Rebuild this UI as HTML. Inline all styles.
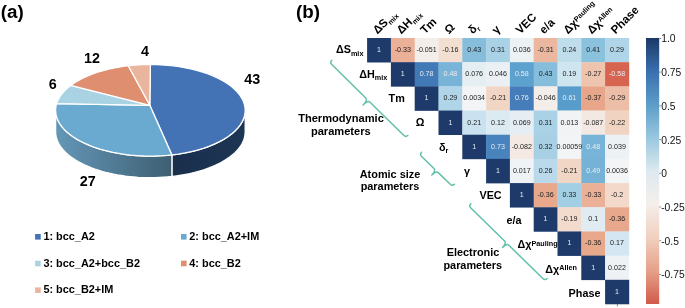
<!DOCTYPE html><html><head><meta charset="utf-8"><style>html,body{margin:0;padding:0;background:#fff;}svg{display:block;filter:blur(0.35px);}text{font-family:"Liberation Sans",sans-serif;}</style></head><body>
<svg width="685" height="308" viewBox="0 0 685 308">
<rect width="685" height="308" fill="#fff"/>
<text x="0.7" y="17.6" font-size="18.8" font-weight="bold" fill="#000">(a)</text>
<text x="296" y="17.6" font-size="18.8" font-weight="bold" fill="#000">(b)</text>
<defs>
<linearGradient id="s2" x1="55" y1="0" x2="172" y2="0" gradientUnits="userSpaceOnUse"><stop offset="0" stop-color="#6497b8"/><stop offset="1" stop-color="#3d5f72"/></linearGradient>
<linearGradient id="s1" x1="172" y1="0" x2="245" y2="0" gradientUnits="userSpaceOnUse"><stop offset="0" stop-color="#192f4c"/><stop offset="1" stop-color="#1d3554"/></linearGradient>
</defs>
<polygon points="245.20,110.30 245.15,111.84 244.99,113.37 244.72,114.90 244.35,116.43 243.87,117.95 243.29,119.46 242.60,120.96 241.81,122.45 240.91,123.92 239.91,125.38 238.82,126.82 237.62,128.25 236.32,129.65 234.93,131.03 233.44,132.39 231.86,133.72 230.19,135.03 228.43,136.31 226.58,137.56 224.64,138.78 222.62,139.97 220.52,141.12 218.34,142.24 216.09,143.32 213.76,144.37 211.36,145.38 208.89,146.35 206.35,147.27 203.75,148.16 201.09,149.00 198.38,149.80 195.61,150.56 192.78,151.27 189.92,151.93 187.00,152.55 184.05,153.12 181.06,153.64 178.03,154.11 174.97,154.53 171.89,154.91 171.89,176.51 174.97,176.13 178.03,175.71 181.06,175.24 184.05,174.72 187.00,174.15 189.92,173.53 192.78,172.87 195.61,172.16 198.38,171.40 201.09,170.60 203.75,169.76 206.35,168.87 208.89,167.95 211.36,166.98 213.76,165.97 216.09,164.92 218.34,163.84 220.52,162.72 222.62,161.57 224.64,160.38 226.58,159.16 228.43,157.91 230.19,156.63 231.86,155.32 233.44,153.99 234.93,152.63 236.32,151.25 237.62,149.85 238.82,148.42 239.91,146.98 240.91,145.52 241.81,144.05 242.60,142.56 243.29,141.06 243.87,139.55 244.35,138.03 244.72,136.50 244.99,134.97 245.15,133.44 245.20,131.90" fill="url(#s1)" stroke="#fff" stroke-width="1.3" stroke-linejoin="round"/>
<polygon points="171.89,154.91 167.71,155.33 163.50,155.66 159.27,155.90 155.01,156.05 150.75,156.10 146.49,156.06 142.23,155.93 137.99,155.71 133.78,155.39 129.60,154.98 125.46,154.49 121.37,153.90 117.34,153.23 113.38,152.46 109.49,151.62 105.69,150.69 101.98,149.67 98.36,148.58 94.85,147.41 91.45,146.17 88.17,144.85 85.02,143.46 82.00,142.01 79.11,140.49 76.38,138.91 73.79,137.28 71.35,135.58 69.08,133.84 66.97,132.05 65.03,130.22 63.26,128.34 61.67,126.43 60.26,124.49 59.03,122.51 57.99,120.52 57.13,118.50 56.46,116.46 55.98,114.42 55.70,112.36 55.60,110.30 55.60,131.90 55.70,133.96 55.98,136.02 56.46,138.06 57.13,140.10 57.99,142.12 59.03,144.11 60.26,146.09 61.67,148.03 63.26,149.94 65.03,151.82 66.97,153.65 69.08,155.44 71.35,157.18 73.79,158.88 76.38,160.51 79.11,162.09 82.00,163.61 85.02,165.06 88.17,166.45 91.45,167.77 94.85,169.01 98.36,170.18 101.98,171.27 105.69,172.29 109.49,173.22 113.38,174.06 117.34,174.83 121.37,175.50 125.46,176.09 129.60,176.58 133.78,176.99 137.99,177.31 142.23,177.53 146.49,177.66 150.75,177.70 155.01,177.65 159.27,177.50 163.50,177.26 167.71,176.93 171.89,176.51" fill="url(#s2)" stroke="#fff" stroke-width="1.3" stroke-linejoin="round"/>
<polygon points="149.80,105.30 150.40,64.50 157.30,64.62 164.16,64.98 170.95,65.59 177.63,66.43 184.16,67.50 190.52,68.80 196.66,70.32 202.56,72.06 208.18,73.99 213.49,76.12 218.48,78.43 223.10,80.90 227.33,83.54 231.16,86.31 234.56,89.21 237.51,92.23 240.00,95.34 242.01,98.53 243.54,101.78 244.58,105.08 245.12,108.40 245.15,111.73 244.69,115.06 243.72,118.36 242.26,121.62 240.31,124.82 237.88,127.94 234.99,130.97 231.66,133.89 227.89,136.68 223.71,139.34 219.14,141.84 214.21,144.17 208.94,146.32 203.36,148.29 197.50,150.05 191.39,151.60 185.06,152.93 178.55,154.03 171.89,154.91" fill="#4373b5" stroke="#fff" stroke-width="1.3" stroke-linejoin="round"/>
<polygon points="149.80,105.30 171.89,154.91 167.37,155.36 162.81,155.71 158.22,155.94 153.61,156.07 148.99,156.09 144.38,156.01 139.78,155.81 135.21,155.51 130.67,155.10 126.18,154.58 121.75,153.96 117.39,153.23 113.10,152.41 108.90,151.48 104.80,150.45 100.81,149.33 96.94,148.12 93.19,146.82 89.58,145.43 86.11,143.96 82.80,142.41 79.64,140.78 76.65,139.08 73.84,137.31 71.21,135.48 68.77,133.59 66.52,131.64 64.47,129.64 62.62,127.60 60.98,125.51 59.56,123.39 58.34,121.24 57.35,119.06 56.58,116.86 56.03,114.65 55.70,112.43 55.60,110.20 55.72,107.97 56.07,105.74 56.64,103.53" fill="#6aaad0" stroke="#fff" stroke-width="1.3" stroke-linejoin="round"/>
<polygon points="149.80,105.30 56.64,103.53 56.80,103.05 56.96,102.57 57.13,102.09 57.32,101.62 57.52,101.14 57.72,100.66 57.94,100.19 58.17,99.72 58.40,99.25 58.65,98.77 58.91,98.31 59.18,97.84 59.46,97.37 59.74,96.91 60.04,96.44 60.35,95.98 60.67,95.52 61.00,95.06 61.34,94.60 61.69,94.15 62.05,93.69 62.42,93.24 62.80,92.79 63.19,92.35 63.59,91.90 64.00,91.46 64.41,91.01 64.84,90.58 65.28,90.14 65.73,89.70 66.18,89.27 66.65,88.84 67.13,88.41 67.61,87.99 68.11,87.56 68.61,87.14 69.12,86.73 69.64,86.31 70.17,85.90 70.71,85.49" fill="#a9d3e2" stroke="#fff" stroke-width="1.3" stroke-linejoin="round"/>
<polygon points="149.80,105.30 70.71,85.49 71.71,84.76 72.73,84.04 73.78,83.33 74.86,82.63 75.96,81.94 77.10,81.26 78.26,80.59 79.44,79.93 80.65,79.28 81.89,78.64 83.15,78.02 84.44,77.40 85.75,76.80 87.08,76.21 88.44,75.64 89.82,75.07 91.22,74.52 92.64,73.98 94.09,73.46 95.55,72.94 97.04,72.45 98.54,71.96 100.06,71.49 101.60,71.03 103.16,70.59 104.74,70.16 106.33,69.75 107.94,69.35 109.56,68.97 111.20,68.60 112.85,68.25 114.52,67.91 116.20,67.58 117.89,67.28 119.59,66.99 121.31,66.71 123.04,66.45 124.77,66.21 126.52,65.98 128.27,65.77" fill="#e08e70" stroke="#fff" stroke-width="1.3" stroke-linejoin="round"/>
<polygon points="149.80,105.30 128.27,65.77 128.81,65.70 129.36,65.64 129.90,65.58 130.45,65.53 130.99,65.47 131.54,65.42 132.09,65.36 132.64,65.31 133.19,65.26 133.73,65.21 134.28,65.17 134.84,65.12 135.39,65.08 135.94,65.04 136.49,65.00 137.04,64.96 137.60,64.92 138.15,64.88 138.70,64.85 139.26,64.82 139.81,64.79 140.37,64.76 140.92,64.73 141.48,64.70 142.03,64.68 142.59,64.66 143.15,64.63 143.70,64.61 144.26,64.60 144.82,64.58 145.38,64.56 145.93,64.55 146.49,64.54 147.05,64.53 147.61,64.52 148.17,64.51 148.72,64.51 149.28,64.50 149.84,64.50 150.40,64.50" fill="#eab59d" stroke="#fff" stroke-width="1.3" stroke-linejoin="round"/>
<text x="244.2" y="83.7" font-size="14.3" font-weight="bold" fill="#000">43</text>
<text x="79.8" y="185.6" font-size="14.3" font-weight="bold" fill="#000">27</text>
<text x="48.7" y="88.6" font-size="14.3" font-weight="bold" fill="#000">6</text>
<text x="84.1" y="63.1" font-size="14.3" font-weight="bold" fill="#000">12</text>
<text x="141.1" y="56.3" font-size="14.3" font-weight="bold" fill="#000">4</text>
<rect x="35.1" y="234.0" width="5.6" height="5.6" fill="#4373b5"/>
<text x="43.4" y="239.9" font-size="10.9" font-weight="bold" fill="#000">1: bcc_A2</text>
<rect x="181.0" y="234.0" width="5.6" height="5.6" fill="#6aaad0"/>
<text x="189.3" y="239.9" font-size="10.9" font-weight="bold" fill="#000">2: bcc_A2+IM</text>
<rect x="35.1" y="260.7" width="5.6" height="5.6" fill="#a9d3e2"/>
<text x="43.4" y="266.6" font-size="10.9" font-weight="bold" fill="#000">3: bcc_A2+bcc_B2</text>
<rect x="181.0" y="260.7" width="5.6" height="5.6" fill="#e08e70"/>
<text x="189.3" y="266.6" font-size="10.9" font-weight="bold" fill="#000">4: bcc_B2</text>
<rect x="35.1" y="287.4" width="5.6" height="5.6" fill="#eab59d"/>
<text x="43.4" y="293.3" font-size="10.9" font-weight="bold" fill="#000">5: bcc_B2+IM</text>
<rect x="367.10" y="38.00" width="24.10" height="24.48" fill="#1d3a6b"/>
<rect x="390.90" y="38.00" width="24.10" height="24.48" fill="#eab198"/>
<rect x="414.70" y="38.00" width="24.10" height="24.48" fill="#f4eeea"/>
<rect x="438.50" y="38.00" width="24.10" height="24.48" fill="#f3dfd2"/>
<rect x="462.30" y="38.00" width="24.10" height="24.48" fill="#85bddb"/>
<rect x="486.10" y="38.00" width="24.10" height="24.48" fill="#aad2e6"/>
<rect x="509.90" y="38.00" width="24.10" height="24.48" fill="#ecf1f4"/>
<rect x="533.70" y="38.00" width="24.10" height="24.48" fill="#ebb79f"/>
<rect x="557.50" y="38.00" width="24.10" height="24.48" fill="#c0ddec"/>
<rect x="581.30" y="38.00" width="24.10" height="24.48" fill="#8ac1dd"/>
<rect x="605.10" y="38.00" width="24.10" height="24.48" fill="#b0d5e8"/>
<rect x="390.90" y="62.18" width="24.10" height="24.48" fill="#1d3a6b"/>
<rect x="414.70" y="62.18" width="24.10" height="24.48" fill="#4279b7"/>
<rect x="438.50" y="62.18" width="24.10" height="24.48" fill="#78b4d7"/>
<rect x="462.30" y="62.18" width="24.10" height="24.48" fill="#e5eef3"/>
<rect x="486.10" y="62.18" width="24.10" height="24.48" fill="#eaf0f4"/>
<rect x="509.90" y="62.18" width="24.10" height="24.48" fill="#5da2ce"/>
<rect x="533.70" y="62.18" width="24.10" height="24.48" fill="#85bddb"/>
<rect x="557.50" y="62.18" width="24.10" height="24.48" fill="#cfe5f0"/>
<rect x="581.30" y="62.18" width="24.10" height="24.48" fill="#eec4af"/>
<rect x="605.10" y="62.18" width="24.10" height="24.48" fill="#d66451"/>
<rect x="414.70" y="86.36" width="24.10" height="24.48" fill="#1d3a6b"/>
<rect x="438.50" y="86.36" width="24.10" height="24.48" fill="#b0d5e8"/>
<rect x="462.30" y="86.36" width="24.10" height="24.48" fill="#f2f4f5"/>
<rect x="486.10" y="86.36" width="24.10" height="24.48" fill="#f1d6c6"/>
<rect x="509.90" y="86.36" width="24.10" height="24.48" fill="#447db9"/>
<rect x="533.70" y="86.36" width="24.10" height="24.48" fill="#f4eeeb"/>
<rect x="557.50" y="86.36" width="24.10" height="24.48" fill="#579ccb"/>
<rect x="581.30" y="86.36" width="24.10" height="24.48" fill="#e7a589"/>
<rect x="605.10" y="86.36" width="24.10" height="24.48" fill="#ecbda7"/>
<rect x="438.50" y="110.54" width="24.10" height="24.48" fill="#1d3a6b"/>
<rect x="462.30" y="110.54" width="24.10" height="24.48" fill="#cae2ef"/>
<rect x="486.10" y="110.54" width="24.10" height="24.48" fill="#dceaf2"/>
<rect x="509.90" y="110.54" width="24.10" height="24.48" fill="#e6eef3"/>
<rect x="533.70" y="110.54" width="24.10" height="24.48" fill="#aad2e6"/>
<rect x="557.50" y="110.54" width="24.10" height="24.48" fill="#f1f3f5"/>
<rect x="581.30" y="110.54" width="24.10" height="24.48" fill="#f4e9e2"/>
<rect x="605.10" y="110.54" width="24.10" height="24.48" fill="#f1d3c2"/>
<rect x="462.30" y="134.72" width="24.10" height="24.48" fill="#1d3a6b"/>
<rect x="486.10" y="134.72" width="24.10" height="24.48" fill="#4883bd"/>
<rect x="509.90" y="134.72" width="24.10" height="24.48" fill="#f4eae3"/>
<rect x="533.70" y="134.72" width="24.10" height="24.48" fill="#a7d0e5"/>
<rect x="557.50" y="134.72" width="24.10" height="24.48" fill="#f3f4f5"/>
<rect x="581.30" y="134.72" width="24.10" height="24.48" fill="#78b4d7"/>
<rect x="605.10" y="134.72" width="24.10" height="24.48" fill="#ecf1f4"/>
<rect x="486.10" y="158.90" width="24.10" height="24.48" fill="#1d3a6b"/>
<rect x="509.90" y="158.90" width="24.10" height="24.48" fill="#f0f3f5"/>
<rect x="533.70" y="158.90" width="24.10" height="24.48" fill="#badaeb"/>
<rect x="557.50" y="158.90" width="24.10" height="24.48" fill="#f1d6c6"/>
<rect x="581.30" y="158.90" width="24.10" height="24.48" fill="#75b2d6"/>
<rect x="605.10" y="158.90" width="24.10" height="24.48" fill="#f2f4f5"/>
<rect x="509.90" y="183.08" width="24.10" height="24.48" fill="#1d3a6b"/>
<rect x="533.70" y="183.08" width="24.10" height="24.48" fill="#e8a88c"/>
<rect x="557.50" y="183.08" width="24.10" height="24.48" fill="#a3cfe4"/>
<rect x="581.30" y="183.08" width="24.10" height="24.48" fill="#eab198"/>
<rect x="605.10" y="183.08" width="24.10" height="24.48" fill="#f2d9ca"/>
<rect x="533.70" y="207.26" width="24.10" height="24.48" fill="#1d3a6b"/>
<rect x="557.50" y="207.26" width="24.10" height="24.48" fill="#f2dacc"/>
<rect x="581.30" y="207.26" width="24.10" height="24.48" fill="#e0ecf2"/>
<rect x="605.10" y="207.26" width="24.10" height="24.48" fill="#e8a88c"/>
<rect x="557.50" y="231.44" width="24.10" height="24.48" fill="#1d3a6b"/>
<rect x="581.30" y="231.44" width="24.10" height="24.48" fill="#e8a88c"/>
<rect x="605.10" y="231.44" width="24.10" height="24.48" fill="#d3e6f1"/>
<rect x="581.30" y="255.62" width="24.10" height="24.48" fill="#1d3a6b"/>
<rect x="605.10" y="255.62" width="24.10" height="24.48" fill="#eff2f4"/>
<rect x="605.10" y="279.80" width="24.10" height="24.48" fill="#1d3a6b"/>
<text x="379.00" y="52.04" font-size="7.1" text-anchor="middle" fill="#e8ebef">1</text>
<text x="402.80" y="52.04" font-size="7.1" text-anchor="middle" fill="#1c1c1c">-0.33</text>
<text x="426.60" y="52.04" font-size="7.1" text-anchor="middle" fill="#1c1c1c">-0.051</text>
<text x="450.40" y="52.04" font-size="7.1" text-anchor="middle" fill="#1c1c1c">-0.16</text>
<text x="474.20" y="52.04" font-size="7.1" text-anchor="middle" fill="#1c1c1c">0.43</text>
<text x="498.00" y="52.04" font-size="7.1" text-anchor="middle" fill="#1c1c1c">0.31</text>
<text x="521.80" y="52.04" font-size="7.1" text-anchor="middle" fill="#1c1c1c">0.036</text>
<text x="545.60" y="52.04" font-size="7.1" text-anchor="middle" fill="#1c1c1c">-0.31</text>
<text x="569.40" y="52.04" font-size="7.1" text-anchor="middle" fill="#1c1c1c">0.24</text>
<text x="593.20" y="52.04" font-size="7.1" text-anchor="middle" fill="#1c1c1c">0.41</text>
<text x="617.00" y="52.04" font-size="7.1" text-anchor="middle" fill="#1c1c1c">0.29</text>
<text x="402.80" y="76.22" font-size="7.1" text-anchor="middle" fill="#e8ebef">1</text>
<text x="426.60" y="76.22" font-size="7.1" text-anchor="middle" fill="#e8ebef">0.78</text>
<text x="450.40" y="76.22" font-size="7.1" text-anchor="middle" fill="#e8ebef">0.48</text>
<text x="474.20" y="76.22" font-size="7.1" text-anchor="middle" fill="#1c1c1c">0.076</text>
<text x="498.00" y="76.22" font-size="7.1" text-anchor="middle" fill="#1c1c1c">0.046</text>
<text x="521.80" y="76.22" font-size="7.1" text-anchor="middle" fill="#e8ebef">0.58</text>
<text x="545.60" y="76.22" font-size="7.1" text-anchor="middle" fill="#1c1c1c">0.43</text>
<text x="569.40" y="76.22" font-size="7.1" text-anchor="middle" fill="#1c1c1c">0.19</text>
<text x="593.20" y="76.22" font-size="7.1" text-anchor="middle" fill="#1c1c1c">-0.27</text>
<text x="617.00" y="76.22" font-size="7.1" text-anchor="middle" fill="#e8ebef">-0.58</text>
<text x="426.60" y="100.40" font-size="7.1" text-anchor="middle" fill="#e8ebef">1</text>
<text x="450.40" y="100.40" font-size="7.1" text-anchor="middle" fill="#1c1c1c">0.29</text>
<text x="474.20" y="100.40" font-size="7.1" text-anchor="middle" fill="#1c1c1c">0.0034</text>
<text x="498.00" y="100.40" font-size="7.1" text-anchor="middle" fill="#1c1c1c">-0.21</text>
<text x="521.80" y="100.40" font-size="7.1" text-anchor="middle" fill="#e8ebef">0.76</text>
<text x="545.60" y="100.40" font-size="7.1" text-anchor="middle" fill="#1c1c1c">-0.046</text>
<text x="569.40" y="100.40" font-size="7.1" text-anchor="middle" fill="#e8ebef">0.61</text>
<text x="593.20" y="100.40" font-size="7.1" text-anchor="middle" fill="#1c1c1c">-0.37</text>
<text x="617.00" y="100.40" font-size="7.1" text-anchor="middle" fill="#1c1c1c">-0.29</text>
<text x="450.40" y="124.58" font-size="7.1" text-anchor="middle" fill="#e8ebef">1</text>
<text x="474.20" y="124.58" font-size="7.1" text-anchor="middle" fill="#1c1c1c">0.21</text>
<text x="498.00" y="124.58" font-size="7.1" text-anchor="middle" fill="#1c1c1c">0.12</text>
<text x="521.80" y="124.58" font-size="7.1" text-anchor="middle" fill="#1c1c1c">0.069</text>
<text x="545.60" y="124.58" font-size="7.1" text-anchor="middle" fill="#1c1c1c">0.31</text>
<text x="569.40" y="124.58" font-size="7.1" text-anchor="middle" fill="#1c1c1c">0.013</text>
<text x="593.20" y="124.58" font-size="7.1" text-anchor="middle" fill="#1c1c1c">-0.087</text>
<text x="617.00" y="124.58" font-size="7.1" text-anchor="middle" fill="#1c1c1c">-0.22</text>
<text x="474.20" y="148.76" font-size="7.1" text-anchor="middle" fill="#e8ebef">1</text>
<text x="498.00" y="148.76" font-size="7.1" text-anchor="middle" fill="#e8ebef">0.73</text>
<text x="521.80" y="148.76" font-size="7.1" text-anchor="middle" fill="#1c1c1c">-0.082</text>
<text x="545.60" y="148.76" font-size="7.1" text-anchor="middle" fill="#1c1c1c">0.32</text>
<text x="569.40" y="148.76" font-size="7.1" text-anchor="middle" fill="#1c1c1c">0.00059</text>
<text x="593.20" y="148.76" font-size="7.1" text-anchor="middle" fill="#e8ebef">0.48</text>
<text x="617.00" y="148.76" font-size="7.1" text-anchor="middle" fill="#1c1c1c">0.039</text>
<text x="498.00" y="172.94" font-size="7.1" text-anchor="middle" fill="#e8ebef">1</text>
<text x="521.80" y="172.94" font-size="7.1" text-anchor="middle" fill="#1c1c1c">0.017</text>
<text x="545.60" y="172.94" font-size="7.1" text-anchor="middle" fill="#1c1c1c">0.26</text>
<text x="569.40" y="172.94" font-size="7.1" text-anchor="middle" fill="#1c1c1c">-0.21</text>
<text x="593.20" y="172.94" font-size="7.1" text-anchor="middle" fill="#e8ebef">0.49</text>
<text x="617.00" y="172.94" font-size="7.1" text-anchor="middle" fill="#1c1c1c">0.0036</text>
<text x="521.80" y="197.12" font-size="7.1" text-anchor="middle" fill="#e8ebef">1</text>
<text x="545.60" y="197.12" font-size="7.1" text-anchor="middle" fill="#1c1c1c">-0.36</text>
<text x="569.40" y="197.12" font-size="7.1" text-anchor="middle" fill="#1c1c1c">0.33</text>
<text x="593.20" y="197.12" font-size="7.1" text-anchor="middle" fill="#1c1c1c">-0.33</text>
<text x="617.00" y="197.12" font-size="7.1" text-anchor="middle" fill="#1c1c1c">-0.2</text>
<text x="545.60" y="221.30" font-size="7.1" text-anchor="middle" fill="#e8ebef">1</text>
<text x="569.40" y="221.30" font-size="7.1" text-anchor="middle" fill="#1c1c1c">-0.19</text>
<text x="593.20" y="221.30" font-size="7.1" text-anchor="middle" fill="#1c1c1c">0.1</text>
<text x="617.00" y="221.30" font-size="7.1" text-anchor="middle" fill="#1c1c1c">-0.36</text>
<text x="569.40" y="245.48" font-size="7.1" text-anchor="middle" fill="#e8ebef">1</text>
<text x="593.20" y="245.48" font-size="7.1" text-anchor="middle" fill="#1c1c1c">-0.36</text>
<text x="617.00" y="245.48" font-size="7.1" text-anchor="middle" fill="#1c1c1c">0.17</text>
<text x="593.20" y="269.66" font-size="7.1" text-anchor="middle" fill="#e8ebef">1</text>
<text x="617.00" y="269.66" font-size="7.1" text-anchor="middle" fill="#1c1c1c">0.022</text>
<text x="617.00" y="293.84" font-size="7.1" text-anchor="middle" fill="#e8ebef">1</text>
<text x="349.70" y="53.15" font-size="10.8" font-weight="bold" text-anchor="middle" fill="#000">ΔS<tspan font-size="0.67em" dy="0.37em">mix</tspan></text>
<text x="373.18" y="77.53" font-size="10.8" font-weight="bold" text-anchor="middle" fill="#000">ΔH<tspan font-size="0.67em" dy="0.37em">mix</tspan></text>
<text x="396.66" y="101.90" font-size="10.8" font-weight="bold" text-anchor="middle" fill="#000">Tm</text>
<text x="420.14" y="126.28" font-size="10.8" font-weight="bold" text-anchor="middle" fill="#000">Ω</text>
<text x="443.62" y="150.65" font-size="10.8" font-weight="bold" text-anchor="middle" fill="#000">δ<tspan font-size="0.67em" dy="0.37em">r</tspan></text>
<text x="467.10" y="175.03" font-size="10.8" font-weight="bold" text-anchor="middle" fill="#000">γ</text>
<text x="490.58" y="199.40" font-size="10.8" font-weight="bold" text-anchor="middle" fill="#000">VEC</text>
<text x="514.06" y="223.78" font-size="10.8" font-weight="bold" text-anchor="middle" fill="#000">e/a</text>
<text x="537.54" y="248.15" font-size="10.8" font-weight="bold" text-anchor="middle" fill="#000">Δχ<tspan font-size="0.67em" dy="-0.30em">Pauling</tspan></text>
<text x="561.02" y="272.52" font-size="10.8" font-weight="bold" text-anchor="middle" fill="#000">Δχ<tspan font-size="0.67em" dy="-0.30em">Allen</tspan></text>
<text x="584.50" y="296.90" font-size="10.8" font-weight="bold" text-anchor="middle" fill="#000">Phase</text>
<text transform="translate(377.50,34.60) rotate(-45)" font-size="11.5" font-weight="bold" fill="#000">ΔS<tspan font-size="0.62em" dy="0.37em">mix</tspan></text>
<text transform="translate(401.30,34.60) rotate(-45)" font-size="11.5" font-weight="bold" fill="#000">ΔH<tspan font-size="0.62em" dy="0.37em">mix</tspan></text>
<text transform="translate(425.10,34.60) rotate(-45)" font-size="11.5" font-weight="bold" fill="#000">Tm</text>
<text transform="translate(448.90,34.60) rotate(-45)" font-size="11.5" font-weight="bold" fill="#000">Ω</text>
<text transform="translate(472.70,34.60) rotate(-45)" font-size="11.5" font-weight="bold" fill="#000">δ<tspan font-size="0.62em" dy="0.37em">r</tspan></text>
<text transform="translate(496.50,34.60) rotate(-45)" font-size="11.5" font-weight="bold" fill="#000">γ</text>
<text transform="translate(520.30,34.60) rotate(-45)" font-size="11.5" font-weight="bold" fill="#000">VEC</text>
<text transform="translate(544.10,34.60) rotate(-45)" font-size="11.5" font-weight="bold" fill="#000">e/a</text>
<text transform="translate(567.90,34.60) rotate(-45)" font-size="11.5" font-weight="bold" fill="#000">Δχ<tspan font-size="0.63em" dy="-0.35em">Pauling</tspan></text>
<text transform="translate(591.70,34.60) rotate(-45)" font-size="11.5" font-weight="bold" fill="#000">Δχ<tspan font-size="0.63em" dy="-0.35em">Allen</tspan></text>
<text transform="translate(615.50,34.60) rotate(-45)" font-size="11.5" font-weight="bold" fill="#000">Phase</text>
<path d="M331.80,60.30 Q329.69,62.44 331.83,64.54 L365.78,98.00 Q367.92,100.11 363.10,105.00 M363.10,105.00 Q367.92,100.11 370.06,102.22 L403.66,135.33 Q405.79,137.44 407.90,135.30" fill="none" stroke="#62c0ab" stroke-width="1.50" stroke-linecap="round" stroke-linejoin="round"/>
<path d="M421.60,152.30 Q419.51,154.45 421.67,156.54 L433.96,168.46 Q436.11,170.55 431.80,175.00 M431.80,175.00 Q436.11,170.55 438.27,172.64 L450.26,184.27 Q452.41,186.35 454.50,184.20" fill="none" stroke="#62c0ab" stroke-width="1.50" stroke-linecap="round" stroke-linejoin="round"/>
<path d="M470.80,203.80 Q468.70,205.94 470.84,208.04 L504.59,241.08 Q506.73,243.18 502.60,247.40 M502.60,247.40 Q506.73,243.18 508.88,245.28 L542.86,278.54 Q545.00,280.64 547.10,278.50" fill="none" stroke="#62c0ab" stroke-width="1.50" stroke-linecap="round" stroke-linejoin="round"/>
<text x="341" y="122.2" font-size="11.1" font-weight="bold" text-anchor="middle" fill="#000">Thermodynamic</text>
<text x="340.8" y="134.5" font-size="11.1" font-weight="bold" text-anchor="middle" fill="#000">parameters</text>
<text x="390" y="177.7" font-size="10.9" font-weight="bold" text-anchor="middle" fill="#000">Atomic size</text>
<text x="390" y="190" font-size="10.9" font-weight="bold" text-anchor="middle" fill="#000">parameters</text>
<text x="473" y="256" font-size="10.9" font-weight="bold" text-anchor="middle" fill="#000">Electronic</text>
<text x="472.8" y="268.6" font-size="10.9" font-weight="bold" text-anchor="middle" fill="#000">parameters</text>
<defs><linearGradient id="cb" x1="0" y1="38.0" x2="0" y2="304.0" gradientUnits="userSpaceOnUse">
<stop offset="0.000" stop-color="#1c3866"/>
<stop offset="0.125" stop-color="#3a6fae"/>
<stop offset="0.250" stop-color="#5c9dc8"/>
<stop offset="0.375" stop-color="#99c7df"/>
<stop offset="0.500" stop-color="#dde9f0"/>
<stop offset="0.620" stop-color="#f4efeb"/>
<stop offset="0.750" stop-color="#f1d0bf"/>
<stop offset="0.875" stop-color="#e6a08a"/>
<stop offset="1.000" stop-color="#d15a4a"/>
</linearGradient></defs>
<rect x="646.0" y="38.0" width="13.2" height="266.0" fill="url(#cb)"/>
<line x1="659.2" y1="38.40" x2="661.2" y2="38.40" stroke="#444" stroke-width="0.6"/>
<text x="661.2" y="42.40" font-size="10.3" fill="#111">1.0</text>
<line x1="659.2" y1="72.12" x2="661.2" y2="72.12" stroke="#444" stroke-width="0.6"/>
<text x="661.2" y="76.12" font-size="10.3" fill="#111">0.75</text>
<line x1="659.2" y1="105.84" x2="661.2" y2="105.84" stroke="#444" stroke-width="0.6"/>
<text x="661.2" y="109.84" font-size="10.3" fill="#111">0.5</text>
<line x1="659.2" y1="139.56" x2="661.2" y2="139.56" stroke="#444" stroke-width="0.6"/>
<text x="661.2" y="143.56" font-size="10.3" fill="#111">0.25</text>
<line x1="659.2" y1="173.28" x2="661.2" y2="173.28" stroke="#444" stroke-width="0.6"/>
<text x="661.2" y="177.28" font-size="10.3" fill="#111">0</text>
<line x1="659.2" y1="207.00" x2="661.2" y2="207.00" stroke="#444" stroke-width="0.6"/>
<text x="661.2" y="211.00" font-size="10.3" fill="#111">-0.25</text>
<line x1="659.2" y1="240.72" x2="661.2" y2="240.72" stroke="#444" stroke-width="0.6"/>
<text x="661.2" y="244.72" font-size="10.3" fill="#111">-0.5</text>
<line x1="659.2" y1="274.44" x2="661.2" y2="274.44" stroke="#444" stroke-width="0.6"/>
<text x="661.2" y="278.44" font-size="10.3" fill="#111">-0.75</text>
<line x1="617.4" y1="304" x2="617.4" y2="306.5" stroke="#555" stroke-width="0.7"/>
</svg></body></html>
